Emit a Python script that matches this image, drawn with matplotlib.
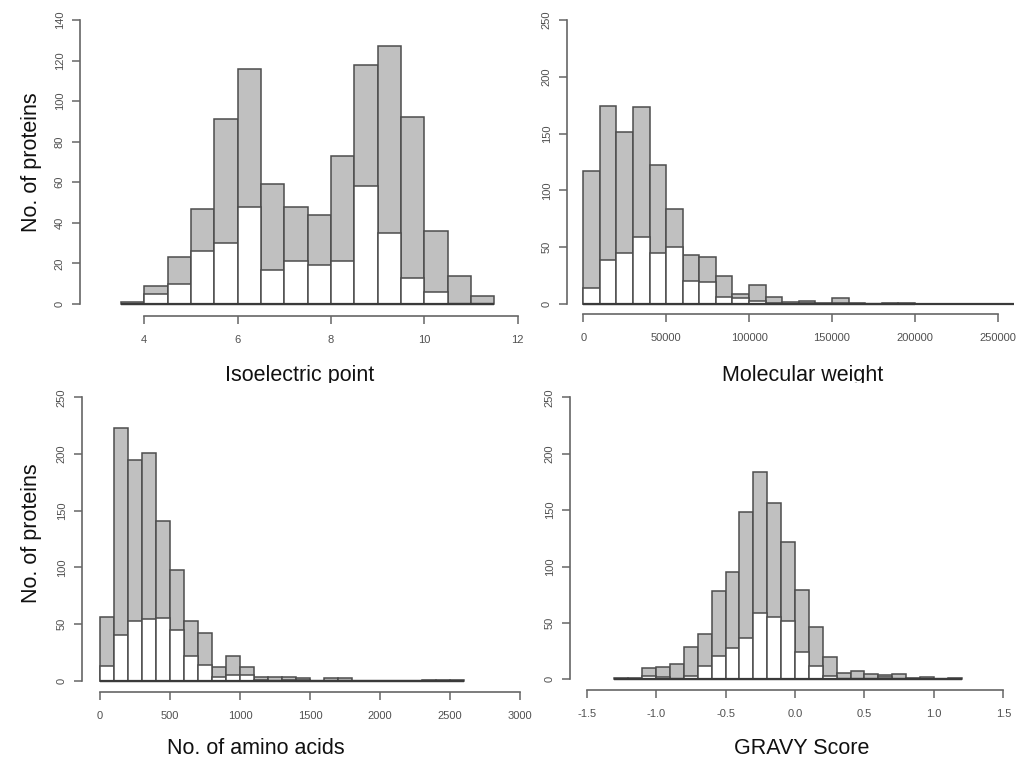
import matplotlib
matplotlib.use('Agg')
import matplotlib.pyplot as plt
import numpy as np
from matplotlib.patches import Rectangle

plt.rcParams['font.family'] = ['Liberation Sans', 'DejaVu Sans']

W, H, DPI = 1028, 771, 100

# ---------------- data ----------------
# Isoelectric point: bins of 0.5 starting at 3.5
pi_start, pi_width = 3.5, 0.5
pi_total = [1, 9, 23, 47, 91, 116, 59, 48, 44, 73, 118, 127, 92, 36, 14, 4]
pi_subset = [0, 5, 10, 26, 30, 48, 17, 21, 19, 21, 58, 35, 13, 6, 0, 0]
pi_xticks = [4, 6, 8, 10, 12]
pi_xlabels = ["4", "6", "8", "10", "12"]
pi_yticks = [0, 20, 40, 60, 80, 100, 120, 140]

# Molecular weight: bins of 10000 starting at 0
mw_start, mw_width = 0, 10000
mw_total = [117, 174, 151, 173, 122, 84, 43, 41, 25, 9, 17, 6, 2, 3, 1, 5, 1, 0, 1, 1,
            0, 0, 0, 0, 0, 0]
mw_subset = [14, 39, 45, 59, 45, 50, 20, 19, 6, 5, 3, 1, 0, 1, 0, 1, 0, 0, 0, 0]
mw_xticks = [0, 50000, 100000, 150000, 200000, 250000]
mw_xlabels = ["0", "50000", "100000", "150000", "200000", "250000"]
mw_yticks = [0, 50, 100, 150, 200, 250]

# Number of amino acids: bins of 100 starting at 0
aa_start, aa_width = 0, 100
aa_total = [56, 223, 195, 201, 141, 98, 53, 42, 12, 22, 12, 3, 3, 3, 2, 0, 2, 2, 0, 0,
            0, 0, 0, 1, 1, 1]
aa_subset = [13, 40, 53, 54, 55, 45, 22, 14, 3, 5, 5, 1, 0, 1, 1, 0, 0, 0, 0, 0,
             0, 0, 0, 0, 0, 0]
aa_xticks = [0, 500, 1000, 1500, 2000, 2500, 3000]
aa_xlabels = ["0", "500", "1000", "1500", "2000", "2500", "3000"]
aa_yticks = [0, 50, 100, 150, 200, 250]

# GRAVY score: bins of 0.1 starting at -1.3
gr_start, gr_width = -1.3, 0.1
gr_total = [1, 1, 10, 11, 14, 29, 40, 78, 95, 148, 184, 156, 122, 79, 46, 20, 6, 7, 5, 4,
            5, 1, 2, 0, 1]
gr_subset = [0, 0, 3, 2, 0, 3, 12, 21, 28, 37, 59, 55, 52, 24, 12, 3, 0, 0, 0, 2,
             0, 0, 0, 0, 0]
gr_xticks = [-1.5, -1.0, -0.5, 0.0, 0.5, 1.0, 1.5]
gr_xlabels = ["-1.5", "-1.0", "-0.5", "0.0", "0.5", "1.0", "1.5"]
gr_yticks = [0, 50, 100, 150, 200, 250]

x_titles = ["Isoelectric point", "Molecular weight", "No. of amino acids", "GRAVY Score"]
y_title = "No. of proteins"

# ---------------- style ----------------
GRAY = '#c0c0c0'
EDGE = '#4d4d4d'
AXC = '#666666'
TXT = '#505050'

fig = plt.figure(figsize=(W / DPI, H / DPI), dpi=DPI)


def make_axes(box, xcal, ycal):
    left, top, right, bottom = box
    (xv1, xp1), (xv2, xp2) = xcal
    (yv1, yp1), (yv2, yp2) = ycal
    sx = (xp2 - xp1) / (xv2 - xv1)
    sy = (yp2 - yp1) / (yv2 - yv1)
    xlo = xv1 + (left - xp1) / sx
    xhi = xv1 + (right - xp1) / sx
    ylo = yv1 + (bottom - yp1) / sy
    yhi = yv1 + (top - yp1) / sy
    ax = fig.add_axes([left / W, 1 - bottom / H, (right - left) / W, (bottom - top) / H])
    ax.set_xlim(xlo, xhi)
    ax.set_ylim(ylo, yhi)
    ax.patch.set_alpha(0)
    return ax


def draw_hist(ax, start, width, counts, fc, z):
    n = len(counts)
    edges = start + width * np.arange(n)
    ax.bar(edges, counts, width=width, align='edge', color=fc, edgecolor=EDGE,
           linewidth=1.1, zorder=z)
    ax.plot([start, start + width * n], [0, 0], color='#3a3a3a', lw=1.6, zorder=z + 0.5,
            solid_capstyle='butt')


def style_axes(ax, xticks, xlabels, yticks):
    for s in ['top', 'right']:
        ax.spines[s].set_visible(False)
    for s in ['left', 'bottom']:
        ax.spines[s].set_color(AXC)
        ax.spines[s].set_linewidth(1.2)
    ax.spines['left'].set_bounds(yticks[0], yticks[-1])
    ax.spines['bottom'].set_bounds(xticks[0], xticks[-1])
    ax.set_xticks(xticks)
    ax.set_xticklabels(xlabels)
    ax.set_yticks(yticks)
    ax.set_yticklabels([str(v) for v in yticks], rotation=90, va='center')
    ax.tick_params(axis='both', direction='out', length=6, width=1.1, color=AXC,
                   labelsize=8, labelcolor=TXT)
    ax.tick_params(axis='x', pad=8)
    ax.tick_params(axis='y', pad=5)


panels = [
    dict(box=(80, 15, 530, 316), xcal=((4, 144.3), (12, 517.7)), ycal=((0, 304), (140, 20)),
         start=pi_start, width=pi_width, total=pi_total, sub=pi_subset,
         xt=pi_xticks, xl=pi_xlabels, yt=pi_yticks),
    dict(box=(567, 15, 1020, 314), xcal=((0, 583.3), (250000, 997.7)), ycal=((0, 304), (250, 20)),
         start=mw_start, width=mw_width, total=mw_total, sub=mw_subset,
         xt=mw_xticks, xl=mw_xlabels, yt=mw_yticks),
    dict(box=(82, 390, 530, 692), xcal=((0, 100), (3000, 520)), ycal=((0, 680.7), (250, 397.3)),
         start=aa_start, width=aa_width, total=aa_total, sub=aa_subset,
         xt=aa_xticks, xl=aa_xlabels, yt=aa_yticks),
    dict(box=(570, 390, 1020, 690), xcal=((-1.5, 586.7), (1.5, 1003.3)), ycal=((0, 679.3), (250, 397.3)),
         start=gr_start, width=gr_width, total=gr_total, sub=gr_subset,
         xt=gr_xticks, xl=gr_xlabels, yt=gr_yticks),
]

for p in panels:
    ax = make_axes(p['box'], p['xcal'], p['ycal'])
    draw_hist(ax, p['start'], p['width'], p['total'], GRAY, 2)
    draw_hist(ax, p['start'], p['width'], p['sub'], 'white', 3)
    style_axes(ax, p['xt'], p['xl'], p['yt'])


def ftext(x, y, s, **kw):
    fig.text(x / W, 1 - y / H, s, **kw)


lab = dict(fontsize=15.5, color='#111111', ha='center', va='center')
ftext(300, 375, x_titles[0], **lab)
ftext(803, 375, x_titles[1], **lab)
ftext(256, 748, x_titles[2], **lab)
ftext(802, 748, x_titles[3], **lab)
ftext(32, 162, y_title, rotation=90, **lab)
ftext(32, 533, y_title, rotation=90, **lab)

# the reference crops the descenders of the upper x titles
fig.add_artist(Rectangle((200 / W, 1 - 389 / H), 700 / W, 6.5 / H, transform=fig.transFigure,
                         facecolor='white', edgecolor='none', zorder=10))

fig.savefig('out.png', dpi=DPI)
